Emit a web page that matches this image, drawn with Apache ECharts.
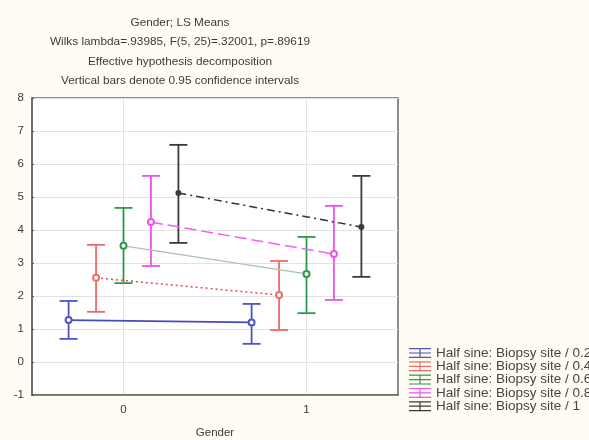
<!DOCTYPE html>
<html>
<head>
<meta charset="utf-8">
<script src="https://cdn.jsdelivr.net/npm/echarts@6/dist/echarts.min.js"></script>
<style>html,body{margin:0;padding:0;background:#fffcf3;}#c{width:589px;height:440px;}</style>
</head>
<body>
<div id="c"></div>
<script>
const groups = [0, 1];
const xTickLabels = ['0', '1'];
const seriesNames = [
  'Half sine: Biopsy site / 0.2',
  'Half sine: Biopsy site / 0.4',
  'Half sine: Biopsy site / 0.6',
  'Half sine: Biopsy site / 0.8',
  'Half sine: Biopsy site / 1'
];
const offsets = [-0.3, -0.15, 0, 0.15, 0.3];

const mean02 = [1.27, 1.20];
const low02  = [0.70, 0.55];
const high02 = [1.85, 1.76];

const mean04 = [2.55, 2.03];
const low04  = [1.52, 0.97];
const high04 = [3.55, 3.06];

const mean06 = [3.52, 2.67];
const low06  = [2.39, 1.48];
const high06 = [4.67, 3.79];

const mean08 = [4.24, 3.27];
const low08  = [2.91, 1.88];
const high08 = [5.64, 4.73];

const mean10 = [5.12, 4.09];
const low10  = [3.61, 2.58];
const high10 = [6.58, 5.64];

const means = [mean02, mean04, mean06, mean08, mean10];
const lows = [low02, low04, low06, low08, low10];
const highs = [high02, high04, high06, high08, high10];

const barColors = ['#5252c4', '#ef6a6a', '#2a9a4a', '#f050f0', '#3a3a3a'];
const lineColors = ['#4a4ac0', '#e84a4a', '#a8c4a8', '#f060f0', '#333333'];
const lineTypes = ['solid', [2, 3], 'solid', [12, 5], [8, 4, 2, 4]];
const lineWidths = [1.6, 1.5, 1.2, 1.5, 1.5];
const symbols = ['emptyCircle', 'emptyCircle', 'emptyCircle', 'emptyCircle', 'circle'];

const FONT = 'Arial, "Liberation Sans", sans-serif';

const series = [];

// vertical grid lines at the group positions (drawn beneath everything)
series.push({
  type: 'custom',
  z: 0,
  silent: true,
  encode: { x: 0 },
  data: groups.map(g => [g]),
  renderItem: function (params, api) {
    const cs = params.coordSys;
    const p = api.coord([api.value(0), 0]);
    return {
      type: 'line',
      shape: { x1: p[0], y1: cs.y, x2: p[0], y2: cs.y + cs.height },
      style: { stroke: '#e2e2e2', lineWidth: 1 }
    };
  }
});

seriesNames.forEach((name, i) => {
  const errData = groups.map((g, j) => [g + offsets[i], lows[i][j], highs[i][j]]);
  series.push({
    name: name,
    type: 'custom',
    z: 2,
    encode: { x: 0, y: [1, 2] },
    data: errData,
    renderItem: function (params, api) {
      const x = api.value(0);
      const lo = api.coord([x, api.value(1)]);
      const hi = api.coord([x, api.value(2)]);
      const w = 9;
      const st = { stroke: barColors[i], lineWidth: 1.8 };
      return {
        type: 'group',
        children: [
          { type: 'line', shape: { x1: lo[0], y1: lo[1], x2: hi[0], y2: hi[1] }, style: st },
          { type: 'line', shape: { x1: hi[0] - w, y1: hi[1], x2: hi[0] + w, y2: hi[1] }, style: st },
          { type: 'line', shape: { x1: lo[0] - w, y1: lo[1], x2: lo[0] + w, y2: lo[1] }, style: st }
        ]
      };
    }
  });
  series.push({
    name: name,
    type: 'line',
    z: 3,
    data: groups.map((g, j) => [g + offsets[i], means[i][j]]),
    symbol: symbols[i],
    symbolSize: 6,
    itemStyle: { color: barColors[i], borderWidth: 1.2 },
    lineStyle: { color: lineColors[i], type: lineTypes[i], width: lineWidths[i] }
  });
});

const iconPath = 'path://M0,0H22V1.2H0Z M10.4,0H11.6V10H10.4Z M0,8.8H22V10H0Z M0,4.4H22V5.6H0Z';

const chart = echarts.init(document.getElementById('c'), null, { renderer: 'canvas' });
chart.setOption({
  backgroundColor: '#fffcf3',
  animation: false,
  textStyle: { fontFamily: FONT },
  title: {
    text: 'Gender; LS Means\nWilks lambda=.93985, F(5, 25)=.32001, p=.89619\nEffective hypothesis decomposition\nVertical bars denote 0.95 confidence intervals',
    left: 180,
    top: 12.5,
    padding: 0,
    textAlign: 'center',
    textStyle: { fontSize: 11.8, fontWeight: 'normal', color: '#3a3a3a', lineHeight: 19.6, fontFamily: FONT }
  },
  legend: {
    orient: 'vertical',
    left: 409,
    top: 346,
    padding: 0,
    itemWidth: 22,
    itemHeight: 10,
    itemGap: -0.7,
    icon: iconPath,
    textStyle: { fontSize: 13.5, color: '#454545', lineHeight: 12.6, fontFamily: FONT },
    data: seriesNames.map((n, i) => ({ name: n, itemStyle: { color: barColors[i], borderWidth: 0 } }))
  },
  grid: {
    left: 32, right: 191, top: 98, bottom: 45,
    outerBoundsMode: 'none',
    containLabel: false,
    show: true, backgroundColor: '#ffffff', borderColor: '#666666', borderWidth: 1.5
  },
  xAxis: {
    type: 'value',
    min: -0.5, max: 1.5, interval: 0.5,
    name: 'Gender',
    nameLocation: 'middle',
    nameGap: 32,
    nameTextStyle: { fontSize: 11.5, color: '#3a3a3a' },
    axisLine: { show: true, onZero: false, lineStyle: { color: '#666666', width: 1.5 } },
    axisTick: { show: false },
    splitLine: { show: false },
    axisLabel: {
      fontSize: 11.5, color: '#3a3a3a', margin: 9,
      formatter: function (v) {
        const k = groups.indexOf(v);
        return k >= 0 ? xTickLabels[k] : '';
      }
    }
  },
  yAxis: {
    type: 'value',
    min: -1, max: 8, interval: 1,
    axisLine: { show: true, onZero: false, lineStyle: { color: '#666666', width: 1.5 } },
    axisTick: { show: true, inside: true, length: 2, lineStyle: { color: '#555' } },
    splitLine: { show: true, lineStyle: { color: '#e2e2e2', width: 1 } },
    axisLabel: { fontSize: 11.5, color: '#3a3a3a', margin: 8 }
  },
  series: series
});
</script>
</body>
</html>
